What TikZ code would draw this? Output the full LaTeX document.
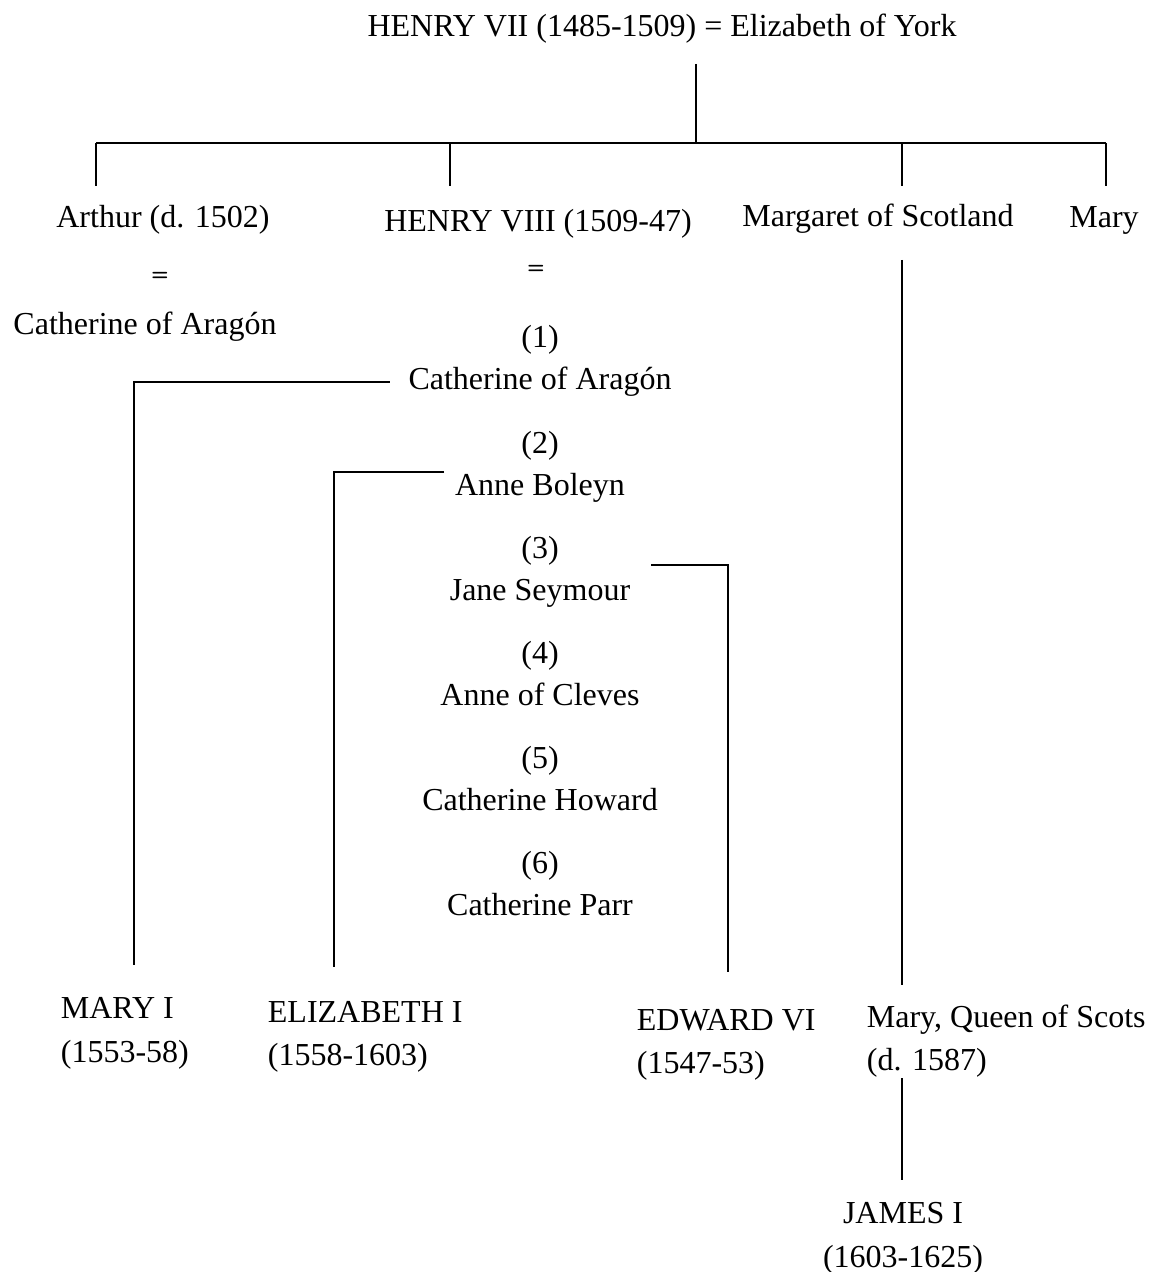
\documentclass[tikz,border=0pt]{standalone}
\usepackage{fontspec}
\setmainfont{Liberation Serif}
\begin{document}
\begin{tikzpicture}[x=0.5pt, y=-0.5pt, line width=0.9pt,
    every node/.style={font=\fontsize{16}{19}\selectfont, inner sep=0pt, anchor=base},
    eqsign/.style={font=\fontsize{10}{11}\sffamily\bfseries},
    reign/.style={anchor=base west}]
        \useasboundingbox (0,0) rectangle (1152,1272);
        % parents and their children
        \node (henry7) at (662,37) {HENRY VII (1485-1509) = Elizabeth of York};
        \node (arthur) at (163,228) {Arthur (d. 1502)};
        \node (henry8) at (538,232) {HENRY VIII (1509-47)};
        \node (margaret) at (878,227) {Margaret of Scotland};
        \node (mary) at (1104,228) {Mary};
        \node[eqsign] (eqarthur) at (160,281) {=};
        \node[eqsign] (eqhenry) at (536,274) {=};
        \node (arthurwife) at (145,335) {Catherine of Aragón};
        % the six wives
        \foreach \i/\y/\wife in {1/348/Catherine of Aragón, 2/453/Anne Boleyn,
            3/558/Jane Seymour, 4/663/Anne of Cleves,
            5/768/Catherine Howard, 6/873/Catherine Parr} {
          \node (num\i) at (540,\y) {(\i)};
          \node (wife\i) at (540,\y+42) {\wife};
        }
        % the next generation
        \node[reign] (mary1) at (60,1018) {MARY I};
        \node[reign] (mary1y) at (60,1062) {(1553-58)};
        \node[reign] (eliz1) at (267,1022) {ELIZABETH I};
        \node[reign] (eliz1y) at (267,1065) {(1558-1603)};
        \node[reign] (edward6) at (636,1030) {EDWARD VI};
        \node[reign] (edward6y) at (636,1073) {(1547-53)};
        \node[reign] (scots) at (866,1027) {Mary, Queen of Scots};
        \node[reign] (scotsy) at (866,1070) {(d. 1587)};
        \node (james1) at (903,1223) {JAMES I};
        \node (james1y) at (903,1267) {(1603-1625)};
        % lines of descent
        \coordinate (fam) at (696,64);
        \draw (fam) -- ++(0,79) coordinate (bar);
        \draw (96,143) -- (1106,143);
        \foreach \x in {96,450,902,1106}
          \draw (\x,143) -- ++(0,43);
        \draw ([xshift=-9pt]wife1.west) -| (134,965);
        \draw ([xshift=-5pt]wife2.north west) -| (334,967);
        \draw ([xshift=10pt,yshift=6.5pt]wife3.north east) -| (728,972);
        \draw (902,260) -- (902,985);
        \draw (902,1078) -- (902,1180);
      \end{tikzpicture}
\end{document}
